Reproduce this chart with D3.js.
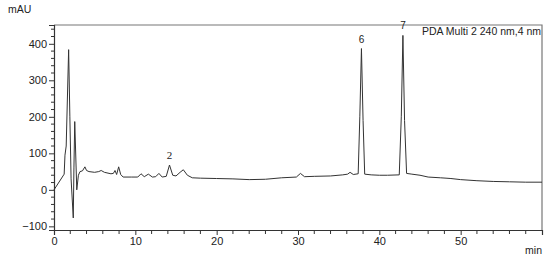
<!DOCTYPE html>
<html>
<head>
<meta charset="utf-8">
<script src="https://cdn.jsdelivr.net/npm/d3@7/dist/d3.min.js"></script>
<style>
  html, body { margin: 0; padding: 0; background: #fff; }
  svg { display: block; }
  text { font-family: "Liberation Sans", Arial, sans-serif; fill: #222; }
</style>
</head>
<body>
<div id="chart"></div>
<script>
// ---- data ----
const times = [0, 1.25, 1.35, 1.5, 1.8, 1.95, 2.1, 2.37, 2.45, 2.55, 2.8, 3.0, 3.2, 3.5, 3.8, 4.0, 4.3, 5.0, 5.5, 5.8, 6.2,
  7.0, 7.3, 7.5, 7.7, 7.95, 8.2, 8.5, 9.5, 10.3, 10.7, 11.1, 11.6, 12.1, 12.5, 12.9, 13.3, 13.8, 14.2, 14.6, 15.0, 15.5,
  15.9, 16.4, 17.0, 18, 20, 22, 24, 26, 28, 29.8, 30.3, 30.8, 32, 34, 35.5, 36.1, 36.4, 36.8, 37.4, 37.6, 37.8, 38.0,
  38.2, 39, 40, 41, 42.45, 42.7, 42.9, 43.1, 43.35, 44, 45, 46, 47.5, 48.2, 48.8, 50, 52, 54, 56, 58, 60];
const mAU = [0, 43, 95, 120, 384, 200, 30, -77, 60, 187, 0, 40, 50, 52, 63, 53, 50, 48, 50, 53, 48,
  44, 45, 53, 42, 63, 42, 35, 35, 35, 44, 36, 43, 35, 36, 45, 35, 37, 68, 40, 38, 48,
  55, 40, 33, 32, 31, 30, 28, 29, 33, 35, 45, 36, 37, 38, 41, 43, 48, 42, 44, 200, 387, 190,
  43, 41, 40, 40, 41, 200, 423, 190, 45, 43, 40, 35, 33, 32, 31, 28, 25, 23, 22, 21, 21];
const xTicks = [0, 10, 20, 30, 40, 50];
const yTicks = [-100, 0, 100, 200, 300, 400];
const peakLabels = ["2", "6", "7"];
const peakTimes = [14.2, 37.8, 42.9];
const peakValues = [68, 387, 423];
const legendText = "PDA Multi 2 240 nm,4 nm";

// ---- layout ----
const W = 550, H = 260;
const m = { left: 54, right: 8, top: 25, bottom: 30 };
const svg = d3.select("#chart").append("svg").attr("width", W).attr("height", H);

const x = d3.scaleLinear().domain([0, 60]).range([m.left, W - m.right]);
const y = d3.scaleLinear().domain([-110, 451.5]).range([H - m.bottom, m.top]);

const axisColor = "#333";

// frame (top & right)
svg.append("path")
  .attr("d", `M${x(0)},${y(451.5)}H${x(60)}V${y(-110)}`)
  .attr("fill", "none").attr("stroke", "#777").attr("stroke-width", 1.2);

// y axis
const yAxis = d3.axisLeft(y).tickValues(yTicks).tickSize(5).tickPadding(2)
  .tickFormat(d => d < 0 ? "\u2212" + Math.abs(d) : d);
const gy = svg.append("g").attr("transform", `translate(${m.left},0)`).call(yAxis);
const yMinor = d3.range(-100, 451, 20).filter(v => v % 100 !== 0);
gy.selectAll(".minor").data(yMinor).enter().append("line")
  .attr("x1", -3).attr("x2", 0).attr("y1", d => y(d)).attr("y2", d => y(d))
  .attr("stroke", axisColor);

// x axis
const xAxis = d3.axisBottom(x).tickValues(xTicks).tickSize(5).tickPadding(2);
const gx = svg.append("g").attr("transform", `translate(0,${H - m.bottom})`).call(xAxis);
const xMinor = d3.range(0, 61, 2).filter(v => v % 10 !== 0);
gx.selectAll(".minor").data(xMinor).enter().append("line")
  .attr("y1", 0).attr("y2", 4).attr("x1", d => x(d)).attr("x2", d => x(d))
  .attr("stroke", axisColor);

[gx, gy].forEach(g => {
  g.select(".domain").attr("stroke", axisColor).attr("stroke-width", 1.2);
  g.selectAll(".tick line").attr("stroke", axisColor);
  g.selectAll("text").style("font-family", "'Liberation Sans', Arial, sans-serif")
    .style("font-size", "11px").attr("fill", "#222");
});

// units
svg.append("text").attr("x", 8).attr("y", 13).attr("font-size", 10.5).text("mAU");
svg.append("text").attr("x", W - m.right).attr("y", 254).attr("text-anchor", "end")
  .attr("font-size", 10.5).text("min");

// trace
const pts = times.map((t, i) => [t, mAU[i]]);
svg.append("path").datum(pts)
  .attr("fill", "none").attr("stroke", "#333").attr("stroke-width", 1)
  .attr("stroke-linejoin", "round")
  .attr("d", d3.line().x(d => x(d[0])).y(d => y(d[1])));

// peak labels
peakLabels.forEach((lab, i) => {
  svg.append("text")
    .attr("x", x(peakTimes[i]))
    .attr("y", y(peakValues[i]) - 6)
    .attr("text-anchor", "middle")
    .attr("font-size", lab === "2" ? 11 : 10)
    .style("font-family", lab === "2" ? "'Liberation Serif', serif" : "'Liberation Sans', sans-serif")
    .text(lab);
});

// legend
svg.append("text").attr("x", W - m.right - 1).attr("y", 35).attr("text-anchor", "end")
  .attr("font-size", 10.5).text(legendText);
</script>
</body>
</html>
